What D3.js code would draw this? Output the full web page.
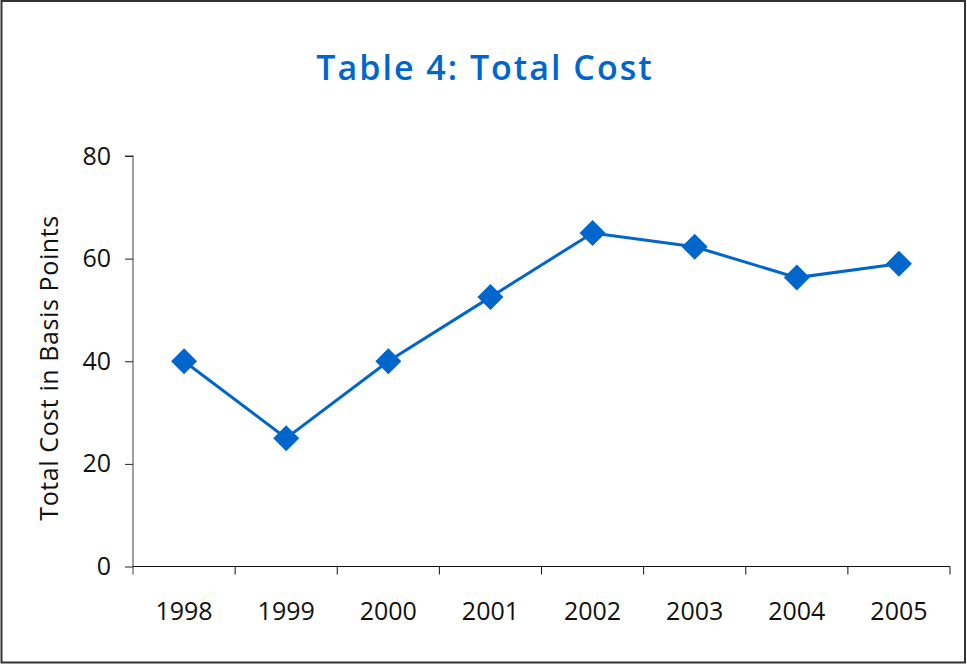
<!DOCTYPE html>
<html>
<head>
<meta charset="utf-8">
<script src="https://cdn.jsdelivr.net/npm/d3@7"></script>
<style>
  body { margin: 0; background: white; }
  text { font-family: "Open Sans", "Noto Sans", sans-serif; }
</style>
</head>
<body>
<div id="chart"></div>
<script>
// chart values
const years = ["1998", "1999", "2000", "2001", "2002", "2003", "2004", "2005"];
const totalCost = [40, 25, 40, 52.5, 65, 62.3, 56.3, 59];
const yTicks = [0, 20, 40, 60, 80];

const width = 967, height = 664;
const margin = {top: 156, right: 17, bottom: 97, left: 133};

const svg = d3.select("#chart")
  .append("svg")
  .attr("width", width)
  .attr("height", height);

// outer frame
svg.append("rect")
  .attr("x", 1.5).attr("y", 1)
  .attr("width", width - 3.5).attr("height", height - 2.5)
  .attr("fill", "white")
  .attr("stroke", "#333")
  .attr("stroke-width", 2);

// title
svg.append("text")
  .attr("x", 485)
  .attr("y", 80)
  .attr("text-anchor", "middle")
  .style("font-size", "34px")
  .style("font-weight", "600")
  .style("letter-spacing", "2px")
  .attr("fill", "#0066cc")
  .text("Table 4: Total Cost");

const xScale = d3.scaleBand()
  .domain(years)
  .range([margin.left, width - margin.right]);

const yScale = d3.scaleLinear()
  .domain([0, 80])
  .range([height - margin.bottom - 0.5, margin.top]);

// y axis
const yAxis = svg.append("g")
  .attr("transform", `translate(${margin.left},0)`)
  .call(d3.axisLeft(yScale).tickValues(yTicks).tickSize(8).tickPadding(14));
yAxis.select(".domain").attr("stroke", "#808080").attr("stroke-width", 1.5)
  .attr("d", `M-8,${yScale(80)}H0V${yScale(0) + 8}`);
yAxis.selectAll(".tick line").attr("stroke", "#222");
yAxis.selectAll("text").style("font-size", "25px").attr("fill", "#111");

// x axis, ticks on the band edges
const x0 = yScale(0);
const xAxis = svg.append("g");
xAxis.append("line")
  .attr("x1", margin.left).attr("x2", width - margin.right)
  .attr("y1", x0).attr("y2", x0)
  .attr("stroke", "#111").attr("stroke-width", 1.2);
xAxis.selectAll(".xtick")
  .data(years.slice(1).concat(["end"]))
  .enter().append("line")
  .attr("x1", (d, i) => margin.left + xScale.bandwidth() * (i + 1))
  .attr("x2", (d, i) => margin.left + xScale.bandwidth() * (i + 1))
  .attr("y1", x0).attr("y2", x0 + 8)
  .attr("stroke", "#111");
xAxis.selectAll(".xlabel")
  .data(years)
  .enter().append("text")
  .attr("x", d => xScale(d) + xScale.bandwidth() / 2)
  .attr("y", 620)
  .attr("text-anchor", "middle")
  .style("font-size", "25px")
  .attr("fill", "#111")
  .text(d => d);

// y axis title
svg.append("text")
  .attr("transform", "translate(58,368) rotate(-90)")
  .attr("text-anchor", "middle")
  .style("font-size", "25px")
  .style("letter-spacing", "0.6px")
  .attr("fill", "#111")
  .text("Total Cost in Basis Points");

// line + diamond markers
const line = d3.line()
  .x((d, i) => xScale(years[i]) + xScale.bandwidth() / 2)
  .y(d => yScale(d));

svg.append("path")
  .datum(totalCost)
  .attr("d", line)
  .attr("fill", "none")
  .attr("stroke", "#0066cc")
  .attr("stroke-width", 3);

svg.selectAll(".marker")
  .data(totalCost)
  .enter().append("path")
  .attr("class", "marker")
  .attr("transform", (d, i) => `translate(${xScale(years[i]) + xScale.bandwidth() / 2},${yScale(d)})`)
  .attr("d", "M0,-13L13,0L0,13L-13,0Z")
  .attr("fill", "#0066cc");
</script>
</body>
</html>
